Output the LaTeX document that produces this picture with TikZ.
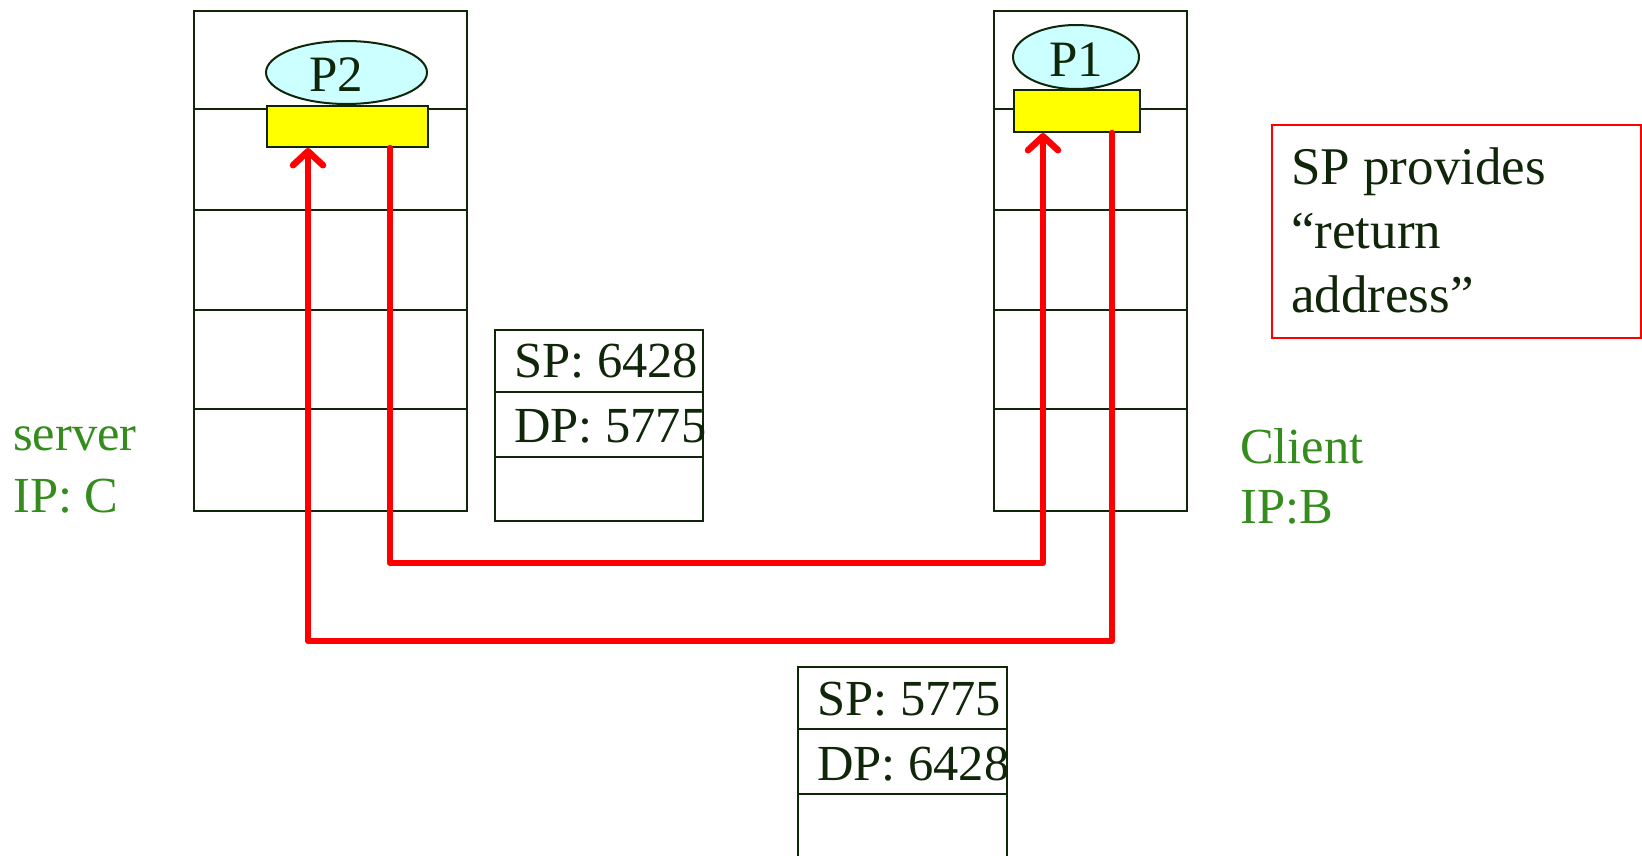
\documentclass[tikz,border=0pt]{standalone}
\usepackage{fontspec}
\setmainfont{Liberation Serif}
\usetikzlibrary{arrows.meta,shapes.geometric}
\definecolor{ink}{RGB}{16,38,8}
\definecolor{lbl}{RGB}{51,140,28}
\definecolor{proc}{RGB}{204,255,255}
\definecolor{sock}{RGB}{255,255,0}
\definecolor{route}{RGB}{255,0,0}
\tikzset{
  frame/.style={draw=ink, line width=2pt},
  stackbox/.style={frame, rectangle, inner sep=0pt, anchor=north west},
  procnode/.style={frame, ellipse, fill=proc, inner sep=0pt},
  proctxt/.style={inner sep=0pt, anchor=base, text=ink, font=\fontsize{51}{61}\selectfont},
  socknode/.style={frame, rectangle, fill=sock, inner sep=0pt, anchor=north west},
  txt/.style={inner sep=0pt, anchor=base west, text=ink, font=\fontsize{50.5}{60}\selectfont},
  greentxt/.style={inner sep=0pt, anchor=base west, text=lbl, font=\fontsize{50.5}{60}\selectfont},
  notetxt/.style={inner sep=0pt, anchor=base west, text=ink, font=\fontsize{53}{63.5}\selectfont},
  routeline/.style={draw=route, line width=6.5pt, line join=round, line cap=round},
  routearrow/.style={routeline, -{Straight Barb[length=14pt,width=30pt,round]}}
}
\begin{document}
\begin{tikzpicture}[x=1pt,y=-1pt]
\useasboundingbox (0,0) rectangle (1642,856);
\clip (0,0) rectangle (1642,856);
\fill[white] (0,0) rectangle (1642,856);

% server stack
\node[stackbox, minimum width=273pt, minimum height=500pt] (stackC) at (193,10) {};
\draw[frame] (193,109) -- (466,109) (193,210) -- (466,210) (193,310) -- (466,310) (193,409) -- (466,409);
% client stack
\node[stackbox, minimum width=193pt, minimum height=500pt] (stackB) at (993,10) {};
\draw[frame] (993,109) -- (1186,109) (993,210) -- (1186,210) (993,310) -- (1186,310) (993,409) -- (1186,409);

% processes and sockets
\node[socknode, minimum width=161pt, minimum height=41pt] (sock2) at (266,105) {};
\node[procnode, minimum width=161pt, minimum height=63pt] (p2) at (346.5,72.5) {};
\node[proctxt] (p2t) at (336,92) {P2};
\node[socknode, minimum width=126pt, minimum height=42pt] (sock1) at (1013,89) {};
\node[procnode, minimum width=126pt, minimum height=64pt] (p1) at (1076,57) {};
\node[proctxt] (p1t) at (1076,77) {P1};

% packet 1
\node[stackbox, minimum width=208pt, minimum height=191pt] (pk1) at (494,329) {};
\draw[frame] (494,392) -- (702,392) (494,457) -- (702,457);
\node[txt] (pk1sp) at (514,377) {SP: 6428};
\node[txt] (pk1dp) at (514,442) {DP: 5775};

% packet 2
\node[stackbox, minimum width=209pt, minimum height=220pt] (pk2) at (797,666) {};
\draw[frame] (797,729) -- (1006,729) (797,794) -- (1006,794);
\node[txt] (pk2sp) at (817,715) {SP: 5775};
\node[txt] (pk2dp) at (817,780) {DP: 6428};

% labels
\node[greentxt] (srv1) at (13,450) {server};
\node[greentxt] (srv2) at (13,512) {IP: C};
\node[greentxt] (cli1) at (1240,463) {Client};
\node[greentxt] (cli2) at (1240,523) {IP:B};

% note
\node[draw=route, line width=2pt, rectangle, inner sep=0pt, anchor=north west, minimum width=369pt, minimum height=213pt] (note) at (1271,124) {};
\node[notetxt] (n1) at (1291,185) {SP provides};
\node[notetxt] (n2) at (1291,248) {“return};
\node[notetxt] (n3) at (1291,312) {address”};

% routes
\coordinate (r1a) at ([xshift=124pt]sock2.south west);
\coordinate (r1b) at (1043,563);
\coordinate (r1c) at ([xshift=30pt]sock1.south west);
\draw[routearrow] (r1a) |- (r1b) -- (r1c);
\coordinate (r2a) at ([xshift=99pt]sock1.south west);
\coordinate (r2b) at (308,641);
\coordinate (r2c) at ([xshift=42pt]sock2.south west);
\draw[routearrow] (r2a) |- (r2b) -- (r2c);
\end{tikzpicture}
\end{document}
